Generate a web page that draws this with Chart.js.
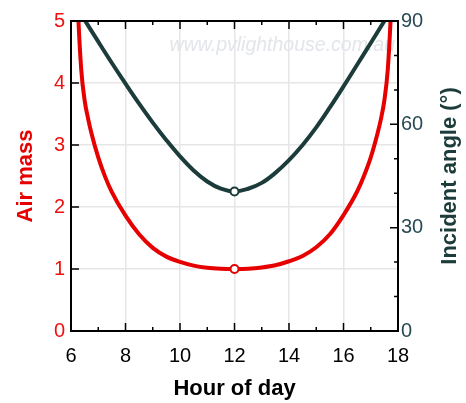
<!DOCTYPE html>
<html>
<head>
<meta charset="utf-8">
<script src="https://cdn.jsdelivr.net/npm/chart.js@4.4.1/dist/chart.umd.min.js"></script>
<style>
  html, body { margin: 0; padding: 0; background: #ffffff; }
  #wrap { width: 466px; height: 403px; }
</style>
</head>
<body>
<div id="wrap"><canvas id="c" width="466" height="403"></canvas></div>
<script>
// ---- data ----
const airMassHours = [6.125, 6.25, 6.375, 6.5, 6.625, 6.75, 7, 7.25, 7.5, 8, 8.5, 9, 9.5, 10, 10.5, 11, 11.5, 12,
                      12.5, 13, 13.5, 14, 14.5, 15, 15.5, 16, 16.5, 16.75, 17, 17.25, 17.375, 17.5, 17.625, 17.75, 17.875];
const airMass = [7.0, 5.25, 4.22, 3.72, 3.43, 3.19, 2.8, 2.49, 2.24, 1.86, 1.56, 1.34, 1.2, 1.115, 1.055, 1.02, 1.005, 1.0,
                 1.005, 1.025, 1.06, 1.125, 1.21, 1.35, 1.56, 1.87, 2.25, 2.5, 2.8, 3.19, 3.42, 3.72, 4.22, 5.25, 7.0];
const angleHours = [6, 6.5, 7, 7.5, 8, 8.5, 9, 9.5, 10, 10.5, 11, 11.5, 12,
                    12.5, 13, 13.5, 14, 14.5, 15, 15.5, 16, 16.5, 17, 17.5, 18];
const incidentAngle = [96.6, 90.3, 84.0, 77.8, 71.8, 66.0, 60.5, 55.4, 50.7, 46.6, 43.4, 41.3, 40.5,
                       41.3, 43.0, 45.9, 49.6, 54.0, 59.1, 64.9, 71.0, 77.3, 83.6, 90.0, 96.4];
const markerHour = 12;
const xTicks = [6, 8, 10, 12, 14, 16, 18];
const airMassTicks = [0, 1, 2, 3, 4, 5];
const angleTicks = [0, 30, 60, 90];

const RED = '#e60000';
const DARK = '#1b3c3a';
const FONT = "'Liberation Sans', Arial, sans-serif";

const toPts = (xs, ys) => xs.map((h, i) => ({ x: h, y: ys[i] }));
const markerRadius = (ctx) => (ctx.raw && ctx.raw.x === markerHour ? 4 : 0);

const framePlugin = {
  id: 'frame',
  beforeDatasetsDraw(chart) {
    const { ctx, chartArea: a } = chart;
    ctx.save();
    ctx.font = "italic 19.5px " + FONT;
    ctx.fillStyle = '#e2e5ea';
    ctx.textAlign = 'right';
    ctx.textBaseline = 'alphabetic';
    ctx.fillText('www.pvlighthouse.com.au', a.right - 3, a.top + 30);
    ctx.restore();
  },
  afterDraw(chart) {
    const { ctx, chartArea: a, scales } = chart;
    const xs = scales.x, yl = scales.y, yr = scales.y1;
    ctx.save();
    ctx.strokeStyle = '#000';
    ctx.lineWidth = 2;
    ctx.strokeRect(a.left, a.top, a.right - a.left, a.bottom - a.top);
    ctx.lineWidth = 1.5;
    ctx.beginPath();
    for (let h = 7; h < 18; h++) {
      const len = (h % 2 === 0) ? 8 : 4;
      const px = xs.getPixelForValue(h);
      ctx.moveTo(px, a.bottom); ctx.lineTo(px, a.bottom - len);
      ctx.moveTo(px, a.top); ctx.lineTo(px, a.top + len);
    }
    for (let v = 1; v < 5; v++) {
      const py = yl.getPixelForValue(v);
      ctx.moveTo(a.left, py); ctx.lineTo(a.left + 8, py);
    }
    for (let d = 10; d < 90; d += 10) {
      const len = (d % 30 === 0) ? 8 : 4;
      const py = yr.getPixelForValue(d);
      ctx.moveTo(a.right, py); ctx.lineTo(a.right - len, py);
    }
    ctx.stroke();
    // right axis title (reads bottom to top)
    ctx.translate(450, (a.top + a.bottom) / 2);
    ctx.rotate(-Math.PI / 2);
    ctx.font = "bold 22px " + FONT;
    ctx.fillStyle = DARK;
    ctx.textAlign = 'center';
    ctx.textBaseline = 'middle';
    ctx.fillText('Incident angle (°)', 0, 0);
    ctx.restore();
  }
};

new Chart(document.getElementById('c'), {
  type: 'line',
  data: {
    datasets: [
      {
        label: 'Air mass',
        data: toPts(airMassHours, airMass),
        yAxisID: 'y',
        borderColor: RED,
        borderWidth: 4,
        cubicInterpolationMode: 'monotone',
        pointRadius: markerRadius,
        pointHoverRadius: markerRadius,
        pointBackgroundColor: '#ffffff',
        pointBorderColor: RED,
        pointBorderWidth: 2,
        clip: 0
      },
      {
        label: 'Incident angle',
        data: toPts(angleHours, incidentAngle),
        yAxisID: 'y1',
        borderColor: DARK,
        borderWidth: 4,
        tension: 0.4,
        pointRadius: markerRadius,
        pointHoverRadius: markerRadius,
        pointBackgroundColor: '#ffffff',
        pointBorderColor: DARK,
        pointBorderWidth: 2,
        clip: 0
      }
    ]
  },
  options: {
    responsive: false,
    animation: false,
    events: [],
    layout: { padding: { top: 21, left: 0, right: 0, bottom: 0 } },
    plugins: { legend: { display: false }, tooltip: { enabled: false } },
    scales: {
      x: {
        type: 'linear',
        min: 6, max: 18,
        afterFit: (s) => { s.height = 72; },
        afterBuildTicks: (s) => { s.ticks = xTicks.map(v => ({ value: v })); },
        ticks: { color: '#000', font: { family: FONT, size: 20 }, padding: 13 },
        grid: { color: '#e6e6e6', lineWidth: 1.5, drawTicks: false },
        border: { display: false },
        title: { display: true, text: 'Hour of day', color: '#000',
                 font: { family: FONT, size: 22, weight: 'bold' }, padding: { top: 0, bottom: 1 } }
      },
      y: {
        position: 'left',
        min: 0, max: 5,
        afterFit: (s) => { s.width = 71; },
        afterBuildTicks: (s) => { s.ticks = airMassTicks.map(v => ({ value: v })); },
        ticks: { color: '#ee1111', font: { family: FONT, size: 20 }, padding: 6 },
        grid: { color: '#e6e6e6', lineWidth: 1.5, drawTicks: false },
        border: { display: false },
        title: { display: true, text: 'Air mass', color: RED,
                 font: { family: FONT, size: 22, weight: 'bold' }, padding: { top: 13, bottom: 0 } }
      },
      y1: {
        position: 'right',
        min: 0, max: 90,
        afterFit: (s) => { s.width = 68; },
        afterBuildTicks: (s) => { s.ticks = angleTicks.map(v => ({ value: v })); },
        ticks: { color: '#294b55', font: { family: FONT, size: 20 }, padding: 3 },
        grid: { drawOnChartArea: false, drawTicks: false },
        border: { display: false }
      }
    }
  },
  plugins: [framePlugin]
});
</script>
</body>
</html>
